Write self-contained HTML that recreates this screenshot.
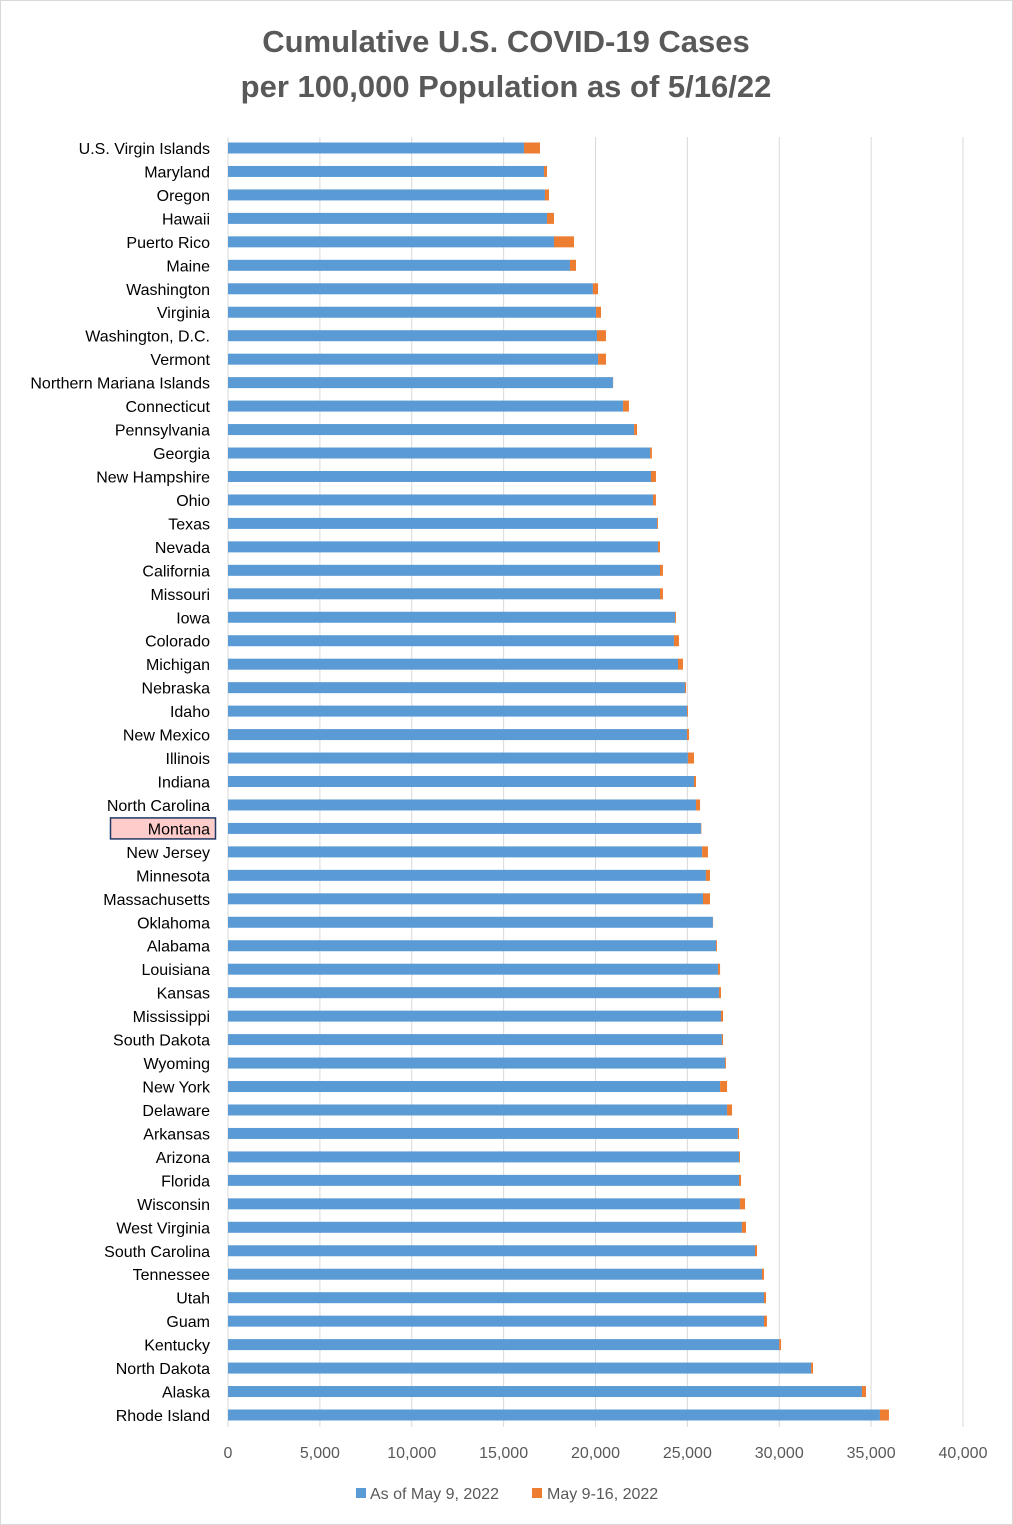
<!DOCTYPE html>
<html><head><meta charset="utf-8"><style>
body{margin:0;background:#fff;}
svg{display:block;font-family:"Liberation Sans",sans-serif;}
</style></head><body>
<svg id="chart" width="1013" height="1525" viewBox="0 0 1013 1525">
<rect x="0.5" y="0.5" width="1012" height="1524" fill="#fff" stroke="#d9d9d9"/>
<text x="506" y="52" text-anchor="middle" font-size="31" font-weight="bold" fill="#595959">Cumulative U.S. COVID-19 Cases</text>
<text x="506" y="97" text-anchor="middle" font-size="31" font-weight="bold" fill="#595959">per 100,000 Population as of 5/16/22</text>
<g id="grid"></g><g id="bars"></g><g id="labels"></g><g id="ticks"></g>
<g>
<rect x="356" y="1488" width="10" height="10" fill="#5b9bd5"/>
<text x="370" y="1499" font-size="16" fill="#595959">As of May 9, 2022</text>
<rect x="532" y="1488" width="10" height="10" fill="#ed7d31"/>
<text x="547" y="1499" font-size="16" fill="#595959">May 9-16, 2022</text>
</g>
</svg>
<script>
const categories=["U.S. Virgin Islands","Maryland","Oregon","Hawaii","Puerto Rico","Maine","Washington","Virginia","Washington, D.C.","Vermont","Northern Mariana Islands","Connecticut","Pennsylvania","Georgia","New Hampshire","Ohio","Texas","Nevada","California","Missouri","Iowa","Colorado","Michigan","Nebraska","Idaho","New Mexico","Illinois","Indiana","North Carolina","Montana","New Jersey","Minnesota","Massachusetts","Oklahoma","Alabama","Louisiana","Kansas","Mississippi","South Dakota","Wyoming","New York","Delaware","Arkansas","Arizona","Florida","Wisconsin","West Virginia","South Carolina","Tennessee","Utah","Guam","Kentucky","North Dakota","Alaska","Rhode Island"];
const asOfMay9=[16110,17200,17250,17360,17740,18610,19860,20030,20080,20140,20950,21500,22100,22970,23020,23130,23350,23400,23510,23510,24330,24270,24490,24870,24980,24980,25030,25360,25470,25740,25800,26010,25850,26390,26560,26670,26720,26830,26880,27050,26780,27160,27750,27810,27810,27860,27970,28680,29060,29170,29170,30000,31730,34500,35480];
const may9to16=[870,160,220,380,1090,330,280,270,490,430,10,320,160,100,270,160,50,110,160,160,50,270,270,60,50,110,330,110,220,20,320,220,380,10,50,110,110,110,60,50,380,270,60,50,110,280,220,110,110,110,160,100,110,220,490];
const tickLabels=["0","5,000","10,000","15,000","20,000","25,000","30,000","40,000"];
const tickValues=[0,5000,10000,15000,20000,25000,30000,35000,40000];
const tickText=["0","5,000","10,000","15,000","20,000","25,000","30,000","35,000","40,000"];
const NS="http://www.w3.org/2000/svg";
const x0=228,x1=963,maxV=40000,yTop=148,yBot=1415,barH=11;
const xs=v=>x0+v/maxV*(x1-x0);
const ys=i=>yTop+i*(yBot-yTop)/(categories.length-1);
function mk(tag,attrs,parent){const e=document.createElementNS(NS,tag);for(const k in attrs)e.setAttribute(k,attrs[k]);document.getElementById(parent).appendChild(e);return e;}
tickValues.forEach((v,i)=>{
  const l=mk('line',{x1:xs(v),x2:xs(v),y1:137,y2:1427,stroke:'#d9d9d9','stroke-width':1},'grid');
  
  
  const t=mk('text',{x:xs(v),y:1458,'text-anchor':'middle','font-size':16,fill:'#595959'},'ticks');
  t.textContent=tickText[i];
  
  
});
categories.forEach((c,i)=>{
  const y=ys(i);
  if(c==="Montana"){
    const h=mk('rect',{x:110.5,y:y-10.5,width:105,height:21,fill:'#ffcccc',stroke:'#1f3864','stroke-width':1.5},'labels');
    
    
  }
  const t=mk('text',{x:210,y:y+6,'text-anchor':'end','font-size':16,fill:'#000'},'labels');
  t.textContent=c;
  
  
  const b=mk('rect',{x:xs(0),y:y-barH/2,width:xs(asOfMay9[i])-xs(0),height:barH,fill:'#5b9bd5'},'bars');
  
  
  const o=mk('rect',{x:xs(asOfMay9[i]),y:y-barH/2,width:xs(asOfMay9[i]+may9to16[i])-xs(asOfMay9[i]),height:barH,fill:'#ed7d31'},'bars');
  
  
});
</script>
</body></html>
